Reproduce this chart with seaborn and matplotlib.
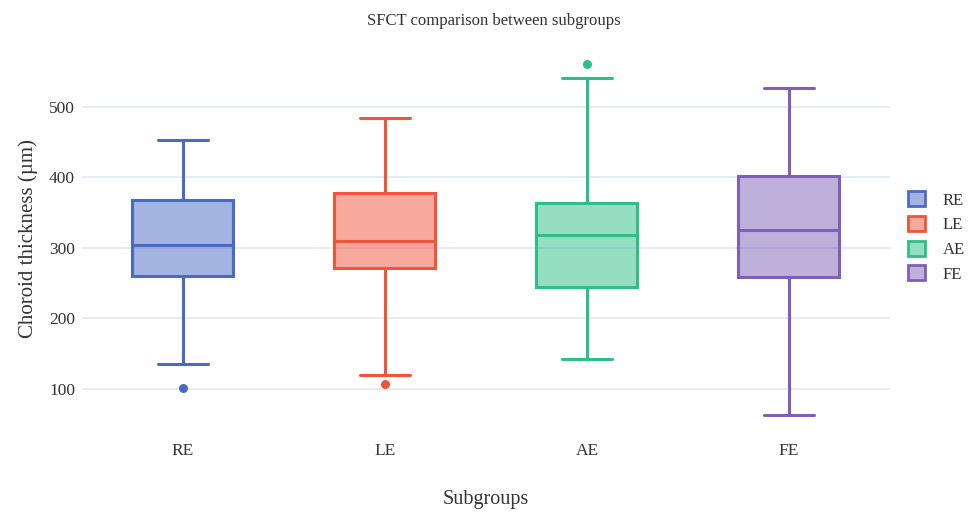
import numpy as np
import pandas as pd
import matplotlib
matplotlib.use('Agg')
import matplotlib.pyplot as plt
from matplotlib.colors import to_rgba
from matplotlib.patches import Patch
import seaborn as sns

# box summaries (µm)
groups = ['RE', 'LE', 'AE', 'FE']
whisker_low = [135, 120, 143, 63]
q1 = [260, 272, 244, 258]
median = [304, 310, 318, 325]
q3 = [367, 377, 364, 402]
whisker_high = [453, 484, 540, 526]
outlier_group = ['RE', 'LE', 'AE']
outlier_value = [101, 107, 560]
colors = ['#4A6BC3', '#EE553B', '#2DBE8A', '#7E60B8']

sns.set_theme(style='white')
plt.rcParams['font.family'] = ['Liberation Serif', 'DejaVu Serif']

fig = plt.figure(figsize=(9.69, 5.12), dpi=100)
ax = fig.add_axes([0.0846, 0.156, 0.8338, 0.756])

for i, g in enumerate(groups):
    vals = [whisker_low[i], q1[i], median[i], q3[i], whisker_high[i]]
    d = pd.DataFrame({'grp': [g] * 5, 'val': vals})
    sns.boxplot(data=d, x='grp', y='val', order=groups, color=colors[i],
                linecolor=colors[i], linewidth=2.2, width=0.5, whis=(0, 100),
                showfliers=False, ax=ax)

# alpha fill like plotly
for p, c in zip(ax.patches, colors):
    p.set_facecolor(to_rgba(c, 0.5))
    p.set_edgecolor(c)

out = pd.DataFrame({'grp': outlier_group, 'val': outlier_value})
for g, c in zip(groups, colors):
    sub = out[out.grp == g]
    if len(sub):
        sns.stripplot(data=sub, x='grp', y='val', order=groups, color=c,
                      jitter=False, size=6.5, ax=ax)

ax.set_xlim(-0.5, 3.5)
ax.set_ylim(39, 587)
ax.set_yticks([100, 200, 300, 400, 500])
ax.yaxis.grid(True, color='#E3E8F2', lw=1.2)
ax.set_axisbelow(True)
for s in ax.spines.values():
    s.set_visible(False)
ax.tick_params(axis='both', length=0, labelsize=12.5, colors='#333333')
ax.tick_params(axis='x', pad=8)
ax.tick_params(axis='y', pad=5)
ax.set_xlabel('Subgroups', fontsize=14.5, color='#333333', labelpad=22)
ax.set_ylabel('Choroid thickness (µm)', fontsize=15, color='#333333', labelpad=8)
fig.suptitle('SFCT comparison between subgroups', x=0.51, y=0.975,
             fontsize=12, color='#333333')

handles = [Patch(facecolor=to_rgba(c, 0.5), edgecolor=c, lw=2, label=g)
           for g, c in zip(groups, colors)]
fig.legend(handles=handles, loc='center left', bbox_to_anchor=(0.937, 0.537),
           frameon=False, borderpad=0, borderaxespad=0, fontsize=12,
           handlelength=1.0, handleheight=1.0, labelspacing=0.45,
           handletextpad=1.1, labelcolor='#333333')

fig.savefig('out.png', dpi=100)
